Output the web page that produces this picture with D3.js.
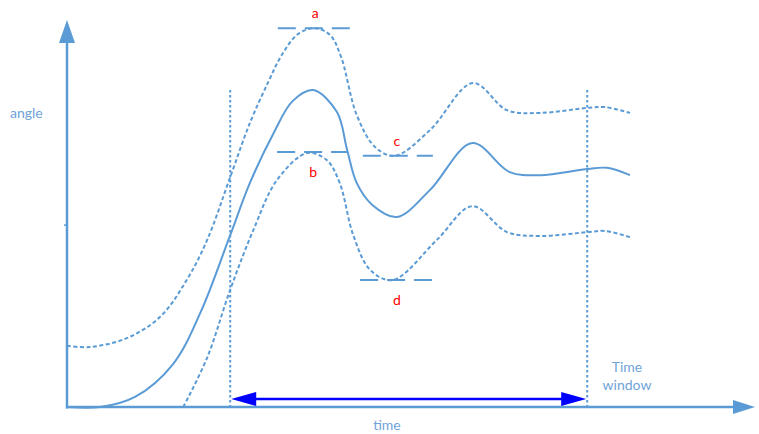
<!DOCTYPE html>
<html><head><meta charset="utf-8">
<script src="https://cdn.jsdelivr.net/npm/d3@7"></script>
<style>body{margin:0;background:#fff}svg{display:block}text{font-family:Lato,"Open Sans",sans-serif}</style>
</head><body><svg id="c" width="759" height="434"></svg>
<script>
// data (time, angle)
const meanT  = [0,0.49,1.00,1.56,1.96,2.40,2.69,3.03,3.32,3.62,3.97,4.12,4.26,4.49,4.85,5.34,5.96,6.51,6.96,7.66,7.94,8.28];
const meanA  = [0,0,0.26,1.11,2.43,4.44,5.79,7.05,7.91,8.19,7.62,6.64,5.79,5.22,4.91,5.61,6.82,6.07,5.99,6.15,6.18,5.99];
const upperT = [0,0.34,0.88,1.37,1.76,2.06,2.40,2.69,2.96,3.16,3.40,3.65,3.87,4.03,4.26,4.53,4.82,5.34,5.97,6.47,6.96,7.66,7.91,8.28];
const upperA = [1.58,1.55,1.78,2.33,3.28,4.31,5.94,7.34,8.40,9.10,9.64,9.79,9.61,9.05,7.55,6.72,6.49,7.16,8.37,7.67,7.60,7.73,7.75,7.60];
const lowerT = [1.71,2.06,2.40,2.74,3.09,3.53,3.82,4.01,4.21,4.46,4.79,5.44,5.96,6.47,6.96,7.66,7.91,8.28];
const lowerA = [0,1.27,3.03,4.57,5.87,6.56,6.38,5.79,4.44,3.54,3.28,4.32,5.19,4.52,4.42,4.52,4.55,4.39];
const levelNames = ["a","b","c","d"];
const levelA     = [9.79,6.59,6.49,3.28];
const levelT0    = [3.10,3.09,4.35,4.31];
const levelT1    = [4.18,4.12,5.38,5.37];
const windowT    = [2.40,7.65];
const windowTop  = 8.19;
const yTick      = [4.70];

const x=d3.scaleLinear().domain([0,10]).range([67,747]);
const y=d3.scaleLinear().domain([0,10]).range([407,20]);
const svg=d3.select("#c");
const blue="#5b9bd5";
const line=d3.line().x(d=>x(d[0])).y(d=>y(d[1])).curve(d3.curveCatmullRom.alpha(0.5));
const zip=(a,b)=>a.map((v,i)=>[v,b[i]]);

// window verticals
windowT.forEach(t=>{
  svg.append("line").attr("x1",x(t)).attr("x2",x(t)).attr("y1",y(windowTop)).attr("y2",y(0))
    .attr("stroke",blue).attr("stroke-width",2).attr("stroke-dasharray","2.5,2.5");
});

// curves
svg.append("path").attr("d",line(zip(upperT,upperA))).attr("fill","none").attr("stroke",blue).attr("stroke-width",2).attr("stroke-dasharray","4,2.5");
svg.append("path").attr("d",line(zip(lowerT,lowerA))).attr("fill","none").attr("stroke",blue).attr("stroke-width",2).attr("stroke-dasharray","4,2.5");
svg.append("path").attr("d",line(zip(meanT,meanA))).attr("fill","none").attr("stroke",blue).attr("stroke-width",2);

// level dashes
levelA.forEach((a,i)=>{
  svg.append("line").attr("x1",x(levelT0[i])).attr("x2",x(levelT1[i])).attr("y1",y(a)).attr("y2",y(a))
    .attr("stroke",blue).attr("stroke-width",2).attr("stroke-dasharray","18,9");
});
// level labels
const labPos=[[3.65,"above"],[3.62,"below"],[4.85,"above"],[4.85,"below"]];
levelNames.forEach((n,i)=>{
  const yy = labPos[i][1]==="above" ? y(levelA[i])-10 : y(levelA[i])+25;
  svg.append("text").attr("x",x(labPos[i][0])).attr("y",yy).attr("text-anchor","middle")
    .attr("fill","#ff0000").attr("font-size",14).text(n);
});

// axes
svg.append("line").attr("x1",x(0)).attr("x2",x(0)).attr("y1",y(0)+1.5).attr("y2",y(9.45)).attr("stroke",blue).attr("stroke-width",2.5);
svg.append("line").attr("x1",x(0)-1).attr("x2",x(9.95)).attr("y1",y(0)).attr("y2",y(0)).attr("stroke",blue).attr("stroke-width",2.5);
svg.append("path").attr("d",`M${x(0)},${y(10)} L${x(0)-8},${y(10)+23} L${x(0)+8},${y(10)+23}Z`).attr("fill",blue);
svg.append("path").attr("d",`M${x(10)+8},${y(0)} L${x(10)-14},${y(0)-7} L${x(10)-14},${y(0)+7}Z`).attr("fill",blue);
yTick.forEach(v=>svg.append("line").attr("x1",x(0)-3).attr("x2",x(0)).attr("y1",y(v)).attr("y2",y(v)).attr("stroke",blue).attr("stroke-width",1.5));

// time window double arrow
const ay=y(0)-8;
svg.append("line").attr("x1",x(windowT[0])+20).attr("x2",x(windowT[1])-20).attr("y1",ay).attr("y2",ay).attr("stroke","#0000ff").attr("stroke-width",2.5);
svg.append("path").attr("d",`M${x(windowT[0])+1},${ay} L${x(windowT[0])+26},${ay-7} L${x(windowT[0])+26},${ay+7}Z`).attr("fill","#0000ff");
svg.append("path").attr("d",`M${x(windowT[1])-1},${ay} L${x(windowT[1])-26},${ay-7} L${x(windowT[1])-26},${ay+7}Z`).attr("fill","#0000ff");

// texts
const tc="#6fa3d8";
svg.append("text").attr("x",10).attr("y",118).attr("fill",tc).attr("font-size",14).text("angle");
svg.append("text").attr("x",387).attr("y",430).attr("text-anchor","middle").attr("fill",tc).attr("font-size",14).text("time");
svg.append("text").attr("x",627).attr("y",372).attr("text-anchor","middle").attr("fill",tc).attr("font-size",14).text("Time");
svg.append("text").attr("x",627).attr("y",390).attr("text-anchor","middle").attr("fill",tc).attr("font-size",14).text("window");
</script></body></html>
